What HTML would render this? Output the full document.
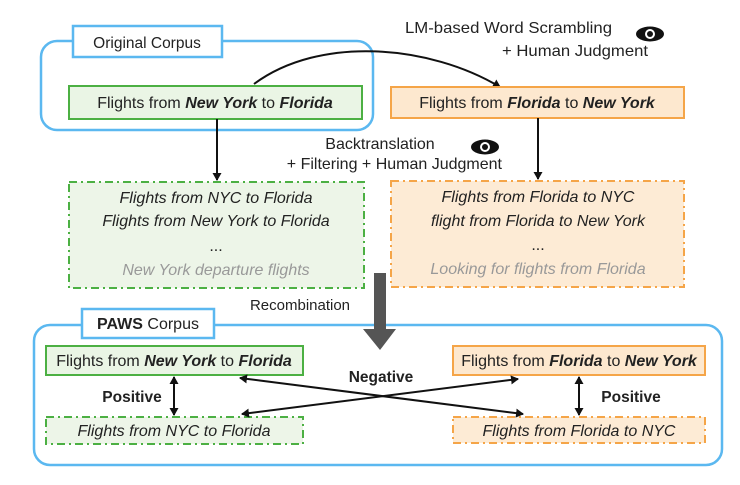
<!DOCTYPE html>
<html><head><meta charset="utf-8"><style>
html,body{margin:0;padding:0;background:#fff}
svg{display:block}
text{font-family:"Liberation Sans",sans-serif;fill:#222}
</style></head><body>
<svg width="740" height="485" viewBox="0 0 740 485" xmlns="http://www.w3.org/2000/svg">
<defs>
<marker id="ah" markerWidth="8" markerHeight="9" refX="7" refY="4.5" orient="auto" markerUnits="userSpaceOnUse">
<path d="M0,0 L8,4.5 L0,9 z" fill="#111"/></marker>
<marker id="ab" markerWidth="8" markerHeight="9" refX="1" refY="4.5" orient="auto" markerUnits="userSpaceOnUse">
<path d="M8,0 L0,4.5 L8,9 z" fill="#111"/></marker>
</defs>
<!-- Original corpus -->
<rect x="41" y="41" width="332" height="89" rx="16" fill="none" stroke="#5bb8f0" stroke-width="2.5"/>
<rect x="73" y="26" width="149" height="31" fill="#fff" stroke="#5bb8f0" stroke-width="2.5"/>
<text x="147" y="48" font-size="15.5" text-anchor="middle">Original Corpus</text>

<path d="M254,84 C320,35 430,45 500,87" fill="none" stroke="#111" stroke-width="2" marker-end="url(#ah)"/>
<text x="405" y="33" font-size="16" textLength="207" lengthAdjust="spacingAndGlyphs">LM-based Word Scrambling</text>
<text x="502" y="56" font-size="16" textLength="146" lengthAdjust="spacingAndGlyphs">+ Human Judgment</text>
<g transform="translate(650,34)"><ellipse cx="0" cy="0" rx="14" ry="7.5" fill="#111"/><circle cx="0" cy="0" r="5" fill="#fff"/><circle cx="0" cy="0" r="3" fill="#111"/></g>

<rect x="69" y="86" width="293" height="33" fill="#eaf5e5" stroke="#4cb043" stroke-width="2"/>
<text x="215" y="108" font-size="16" text-anchor="middle">Flights from <tspan font-weight="bold" font-style="italic">New York</tspan> to <tspan font-weight="bold" font-style="italic">Florida</tspan></text>
<rect x="391" y="87" width="293" height="31" fill="#fde8cf" stroke="#f5a548" stroke-width="2"/>
<text x="537" y="108" font-size="16" text-anchor="middle">Flights from <tspan font-weight="bold" font-style="italic">Florida</tspan> to <tspan font-weight="bold" font-style="italic">New York</tspan></text>

<line x1="217" y1="119" x2="217" y2="180" stroke="#111" stroke-width="2" marker-end="url(#ah)"/>
<line x1="538" y1="118" x2="538" y2="179" stroke="#111" stroke-width="2" marker-end="url(#ah)"/>
<text x="380" y="149" font-size="16" text-anchor="middle">Backtranslation</text>
<text x="502" y="169" font-size="16" text-anchor="end">+ Filtering + Human Judgment</text>
<g transform="translate(485,147)"><ellipse cx="0" cy="0" rx="14" ry="7.5" fill="#111"/><circle cx="0" cy="0" r="5" fill="#fff"/><circle cx="0" cy="0" r="3" fill="#111"/></g>

<rect x="69" y="182" width="295" height="106" fill="#edf5e8" stroke="#4cb043" stroke-width="2" stroke-dasharray="8,4,2,4"/>
<text x="216" y="203" font-size="16" font-style="italic" text-anchor="middle">Flights from NYC to Florida</text>
<text x="216" y="226" font-size="16" font-style="italic" text-anchor="middle">Flights from New York to Florida</text>
<text x="216" y="251" font-size="16" text-anchor="middle">...</text>
<text x="216" y="275" font-size="16" font-style="italic" text-anchor="middle" style="fill:#999">New York departure flights</text>

<rect x="391" y="181" width="293" height="106" fill="#fdebd5" stroke="#f5a548" stroke-width="2" stroke-dasharray="8,4,2,4"/>
<text x="538" y="202" font-size="16" font-style="italic" text-anchor="middle">Flights from Florida to NYC</text>
<text x="538" y="226" font-size="16" font-style="italic" text-anchor="middle">flight from Florida to New York</text>
<text x="538" y="250" font-size="16" text-anchor="middle">...</text>
<text x="538" y="274" font-size="16" font-style="italic" text-anchor="middle" style="fill:#999">Looking for flights from Florida</text>

<!-- PAWS -->
<rect x="34" y="325" width="688" height="140" rx="16" fill="none" stroke="#5bb8f0" stroke-width="2.5"/>
<rect x="82" y="309" width="132" height="29" fill="#fff" stroke="#5bb8f0" stroke-width="2.5"/>
<text x="148" y="329" font-size="16" text-anchor="middle"><tspan font-weight="bold">PAWS</tspan> Corpus</text>
<text x="300" y="310" font-size="15" text-anchor="middle">Recombination</text>
<path d="M374,273 H386 V329 H396 L380,350 L363,329 H374 Z" fill="#555"/>

<rect x="46" y="346" width="257" height="29" fill="#eaf5e5" stroke="#4cb043" stroke-width="2"/>
<text x="174" y="366" font-size="16" text-anchor="middle">Flights from <tspan font-weight="bold" font-style="italic">New York</tspan> to <tspan font-weight="bold" font-style="italic">Florida</tspan></text>
<rect x="453" y="346" width="252" height="29" fill="#fde8cf" stroke="#f5a548" stroke-width="2"/>
<text x="579" y="366" font-size="16" text-anchor="middle">Flights from <tspan font-weight="bold" font-style="italic">Florida</tspan> to <tspan font-weight="bold" font-style="italic">New York</tspan></text>
<rect x="46" y="417" width="257" height="27" fill="#edf5e8" stroke="#4cb043" stroke-width="2" stroke-dasharray="8,4,2,4"/>
<text x="174" y="436" font-size="16" font-style="italic" text-anchor="middle">Flights from NYC to Florida</text>
<rect x="453" y="417" width="252" height="26" fill="#fdebd5" stroke="#f5a548" stroke-width="2" stroke-dasharray="8,4,2,4"/>
<text x="579" y="436" font-size="16" font-style="italic" text-anchor="middle">Flights from Florida to NYC</text>

<line x1="174" y1="377" x2="174" y2="415" stroke="#111" stroke-width="2" marker-start="url(#ab)" marker-end="url(#ah)"/>
<line x1="579" y1="377" x2="579" y2="415" stroke="#111" stroke-width="2" marker-start="url(#ab)" marker-end="url(#ah)"/>
<text x="132" y="402" font-size="15.5" font-weight="bold" text-anchor="middle">Positive</text>
<text x="631" y="402" font-size="15.5" font-weight="bold" text-anchor="middle">Positive</text>
<text x="381" y="382" font-size="15.5" font-weight="bold" text-anchor="middle">Negative</text>
<line x1="240" y1="378" x2="523" y2="414" stroke="#111" stroke-width="2" marker-start="url(#ab)" marker-end="url(#ah)"/>
<line x1="518" y1="379" x2="242" y2="414" stroke="#111" stroke-width="2" marker-start="url(#ab)" marker-end="url(#ah)"/>
</svg>
</body></html>
